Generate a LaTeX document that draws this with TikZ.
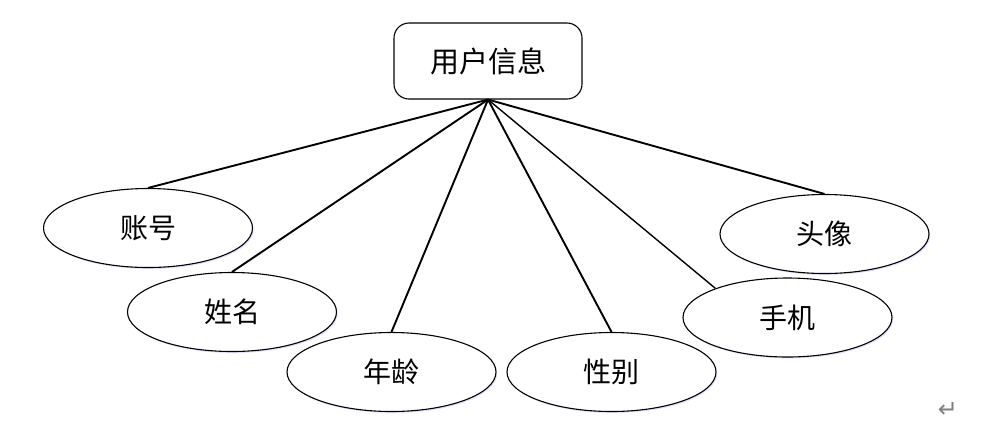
\documentclass[tikz,border=0pt]{standalone}
\usepackage{fontspec}
\newfontfamily\cjk{Noto Sans CJK SC}
\newfontfamily\symfont{DejaVu Sans}
\usetikzlibrary{shapes.geometric,shadows}
\tikzset{
  attr/.style={ellipse, draw=black, line width=1.1pt, fill=white, minimum width=209pt, minimum height=79pt, inner sep=0pt,
    font=\cjk\fontsize{28}{30}\selectfont,
    general shadow={fill=blue!12, shadow xshift=1.2pt, shadow yshift=-1.5pt}},
  entity/.style={rectangle, rounded corners=15pt, draw=black, line width=1.1pt, fill=white, minimum width=188pt, minimum height=76pt, inner sep=0pt,
    font=\cjk\fontsize{29}{30}\selectfont},
  link/.style={line width=1.9pt, black},
  thinlink/.style={line width=1.4pt, black}
}
\begin{document}
\begin{tikzpicture}[x=1pt,y=-1pt]
\useasboundingbox (0,0) rectangle (992,440);
\node[entity] (yh) at (488,61) {用户信息};
\node[attr] (zh) at (148,228) {账号};
\node[attr] (xm) at (232,312) {姓名};
\node[attr] (nl) at (391.5,372) {年龄};
\node[attr] (xb) at (611.5,372) {性别};
\node[attr] (sj) at (787.5,317.5) {手机};
\node[attr] (tx) at (824.5,234) {头像};
\node[text=gray, font=\symfont\fontsize{24}{26}\selectfont] (ret) at (948,410) {↵};
\draw[link] (yh.south) -- (zh.north);
\draw[link] (yh.south) -- (xm.north);
\draw[link] (yh.south) -- (nl.north);
\draw[link] (yh.south) -- (xb.north);
\draw[thinlink] (yh.south) -- (sj.158);
\draw[link] (yh.south) -- (tx.north);
\end{tikzpicture}
\end{document}
